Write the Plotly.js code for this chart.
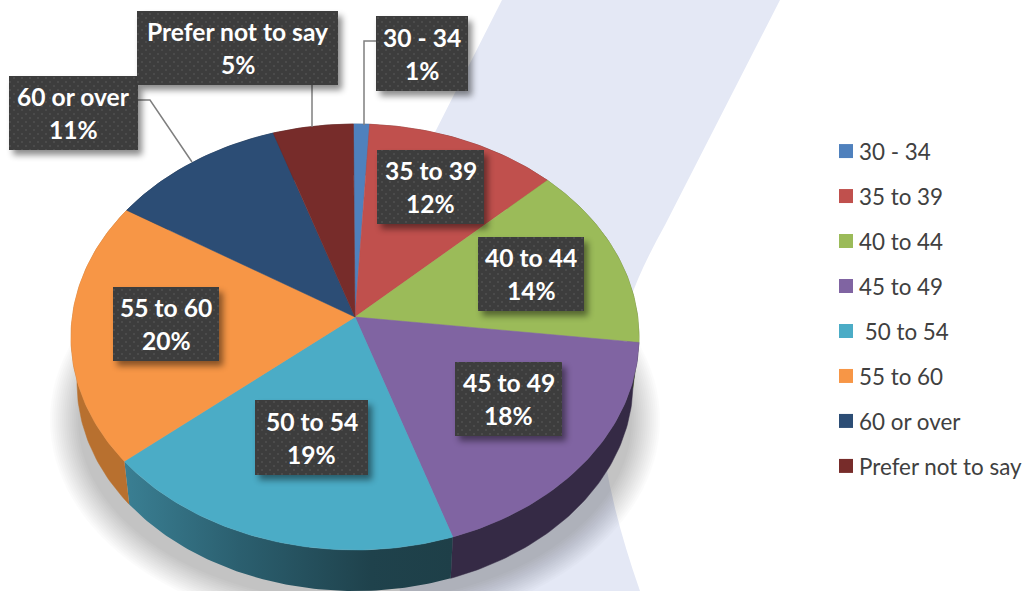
<!DOCTYPE html>
<html>
<head>
<meta charset="utf-8">
<script src="https://cdn.plot.ly/plotly-3.0.1.min.js"></script>
<style>html,body{margin:0;padding:0;background:#fff;overflow:hidden}#chart{width:1029px;height:591px}</style>
</head>
<body>
<div id="chart"></div>
<script>
// ---- data ----
const categories = ['30 - 34','35 to 39','40 to 44','45 to 49','50 to 54','55 to 60','60 or over','Prefer not to say'];
const values = [1,12,14,18,19,20,11,5];
const legendNames = ['30 - 34','35 to 39','40 to 44','45 to 49','\u00A050 to 54','55 to 60','60 or over','Prefer not to say'];
const colors = ['#4f81bd','#c0504d','#9bbb59','#8064a2','#4bacc6','#f79646','#2c4d75','#772c2a'];
const wallColors = ['#2f4d71','#73302e','#5d7035','#352a45','#2a6a7c','#b8702f','#1a2e46','#471a19'];
// label box rectangles: [left, top, right, bottom]
const labelBoxes = [[376,16,468,91],[377,150,484,224],[478,237,584,311],[455,362,562,436],[255,400,368,475],[113,287,219,361],[9,76,138,150],[137,11,338,85]];

// ---- pie projection (tilted disc seen in perspective) ----
const top_ = {cx:355, cy:337, rx:284, ry:213};
const bot_ = {cx:355, cy:383, rx:278, ry:208};
const apexY = 317;
const rotationPct = -0.1;
const a = (top_.cy - apexY) / top_.ry;
function disc(pct){
  const th = (pct+rotationPct)/100*2*Math.PI, u = Math.sin(th), v = Math.cos(th), d = 1 + a*v;
  return [u*Math.sqrt(1-a*a)/d, (v+a)/d];
}
function onEllipse(e,p){ return [e.cx + e.rx*p[0], e.cy - e.ry*p[1]]; }

const total = values.reduce((s,v)=>s+v,0);
const walls = [], tops = [], legendTraces = [];
let cum = 0;
values.forEach((val,i)=>{
  const start = cum/total*100, end = (cum+val)/total*100;
  cum += val;
  const steps = Math.max(2, Math.ceil((end-start)*4));
  const rimT = [], rimB = [];
  for(let k=0;k<=steps;k++){
    const p = disc(start + (end-start)*k/steps);
    rimT.push(onEllipse(top_,p));
    rimB.push(onEllipse(bot_,p));
  }
  const wallPts = rimT.concat(rimB.slice().reverse());
  const wall = {type:'scatter',mode:'lines',x:wallPts.map(q=>q[0]),y:wallPts.map(q=>q[1]),fill:'toself',
    fillcolor:wallColors[i],line:{width:0.5,color:wallColors[i]},showlegend:false,hoverinfo:'skip',legendgroup:'g'+i};
  if(categories[i]==='50 to 54'){
    wall.fillgradient={type:'horizontal',colorscale:[[0,'#3a7f93'],[0.35,'#2b5f6f'],[0.75,'#1f424c'],[1,'#1e3f48']]};
    wall.line={width:0};
  }
  walls.push(wall);
  const wedgePts = [[top_.cx,apexY]].concat(rimT,[[top_.cx,apexY]]);
  tops.push({type:'scatter',mode:'lines',name:categories[i],x:wedgePts.map(q=>q[0]),y:wedgePts.map(q=>q[1]),fill:'toself',
    fillcolor:colors[i],line:{width:0.5,color:colors[i]},showlegend:false,legendgroup:'g'+i,
    text:categories[i]+': '+val+'%',hoverinfo:'text'});
  legendTraces.push({type:'scatter',mode:'markers',name:legendNames[i],x:[null],y:[null],legendgroup:'g'+i,
    marker:{symbol:'square',size:14,color:colors[i]},hoverinfo:'skip'});
});

// ---- decoration ----
const shapes = [
  {type:'path',layer:'below',line:{width:0},fillcolor:'#e4e8f5',
   path:'M502,0 L780,0 L665,225 Q640,270 630,300 L605,460 Q615,520 640,591 L400,591 L350,300 Z'}
];
for(let e=20;e>=-8;e-=2){
  shapes.push({type:'circle',layer:'below',line:{width:0},fillcolor:'rgba(0,0,0,0.016)',
    x0:355-285-e,x1:355+285+e,y0:420-190-e,y1:420+190+e});
}
const leaders = ['M376,41 L364,41 L364,125','M312,85 L312,127','M138,100 L150,100 L192,162'];
leaders.forEach(p=>shapes.push({type:'path',layer:'above',path:p,line:{color:'#7f7f7f',width:1.5}}));
labelBoxes.forEach(b=>shapes.push({type:'rect',layer:'above',x0:b[0],y0:b[1],x1:b[2],y1:b[3],line:{width:0},fillcolor:'#3d3d3d'}));

const labelFont = {family:'Lato, sans-serif',size:24.6,color:'#ffffff',weight:700};
const annotations = [];
labelBoxes.forEach((b,i)=>{
  const cx=(b[0]+b[2])/2, cy=(b[1]+b[3])/2;
  annotations.push({x:cx,y:cy-16.5,xref:'x',yref:'y',text:'<b>'+categories[i]+'</b>',showarrow:false,font:labelFont,xanchor:'center',yanchor:'middle'});
  annotations.push({x:cx,y:cy+16.5,xref:'x',yref:'y',text:'<b>'+values[i]+'%</b>',showarrow:false,font:labelFont,xanchor:'center',yanchor:'middle'});
});

const layout = {
  width:1029,height:591,margin:{l:0,r:0,t:0,b:0},paper_bgcolor:'#ffffff',plot_bgcolor:'#ffffff',
  xaxis:{range:[0,1029],visible:false,fixedrange:true},
  yaxis:{range:[591,0],visible:false,fixedrange:true},
  shapes:shapes,annotations:annotations,
  legend:{x:819/1029,y:1-130/591,xanchor:'left',yanchor:'top',bgcolor:'rgba(0,0,0,0)',
    font:{family:'Lato, sans-serif',size:22.4,color:'#404040'},tracegroupgap:12.86,itemclick:false,itemdoubleclick:false},
  hovermode:'closest'
};

Plotly.newPlot('chart',walls.concat(tops,legendTraces),layout,{displayModeBar:false,responsive:false}).then(gd=>{
  // dotted fabric + soft shadow on the label boxes, tighter legend swatches
  const svg = gd.querySelector('.main-svg');
  const NS='http://www.w3.org/2000/svg';
  const defs=document.createElementNS(NS,'defs');
  defs.innerHTML='<pattern id="dots" width="8" height="8" patternUnits="userSpaceOnUse"><rect width="8" height="8" fill="#3d3d3d"/><circle cx="2" cy="2" r="1" fill="#4f4f4f"/><circle cx="6" cy="6" r="1" fill="#4f4f4f"/></pattern>';
  svg.appendChild(defs);
  gd.querySelectorAll('.layer-above .shapelayer path').forEach(p=>{
    if(p.style.fill==='rgb(61, 61, 61)'){
      p.style.fill='url(#dots)';
      p.style.filter='drop-shadow(4px 5px 3px rgba(0,0,0,0.45))';
    }
  });
  gd.querySelectorAll('.legend .legendsymbols').forEach(s=>s.setAttribute('transform','translate(7,0)'));
});
</script>
</body>
</html>
